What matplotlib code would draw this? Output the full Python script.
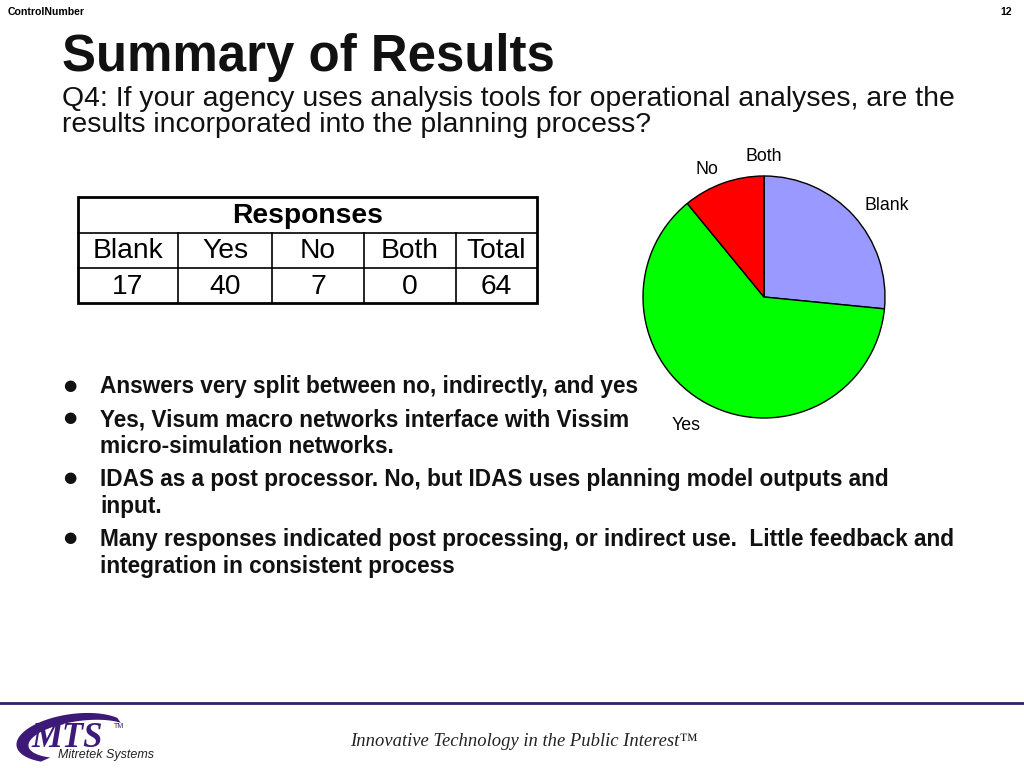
"""Summary of Results slide: Q4 responses table and pie."""

import matplotlib.pyplot as plt
from matplotlib.patches import Rectangle, Polygon
import numpy as np

categories = ['Blank', 'Yes', 'No', 'Both']
counts = [17, 40, 7, 0]
colors = ['#9999FF', '#00FF00', '#FF0000', '#FFFF99']

title = 'Summary of Results'
question = ['Q4: If your agency uses analysis tools for operational analyses, are the',
            'results incorporated into the planning process?']
bullets = [
    ['Answers very split between no, indirectly, and yes'],
    ['Yes, Visum macro networks interface with Vissim', 'micro-simulation networks.'],
    ['IDAS as a post processor. No, but IDAS uses planning model outputs and', 'input.'],
    ['Many responses indicated post processing, or indirect use.  Little feedback and',
     'integration in consistent process'],
]

W, H = 1024, 768
purple = '#3D1A78'
plt.rcParams['font.family'] = ['Liberation Sans', 'DejaVu Sans']

fig = plt.figure(figsize=(W / 100, H / 100), dpi=100)
ax = fig.add_axes([0, 0, 1, 1])
ax.set_xlim(0, W)
ax.set_ylim(H, 0)
ax.axis('off')

# header
ax.text(8, 12, 'ControlNumber', fontsize=7.6, fontweight='bold', va='center')
ax.text(1012, 12, '12', fontsize=7.6, fontweight='bold', va='center', ha='right')

# title
ax.text(62, 71, title, fontsize=36.7, fontweight='bold', va='baseline', color='#111111')
for i, line in enumerate(question):
    ax.text(62, 106 + i * 26, line, fontsize=20.4, va='baseline', color='#111111')

# table
cols = [78, 178, 272, 364, 456, 537]
rows = [197, 233, 268, 303]
header = categories + ['Total']
values = counts + [sum(counts)]
for yy in rows[1:-1]:
    ax.plot([cols[0], cols[-1]], [yy, yy], color='black', lw=1.2)
for x in cols[1:-1]:
    ax.plot([x, x], [rows[1], rows[-1]], color='black', lw=1.2)
ax.add_patch(Rectangle((cols[0], rows[0]), cols[-1] - cols[0], rows[-1] - rows[0],
                       fill=False, ec='black', lw=2))
ax.text((cols[0] + cols[-1]) / 2, (rows[0] + rows[1]) / 2 + 1, 'Responses',
        fontsize=20.3, fontweight='bold', ha='center', va='center')
for j in range(len(header)):
    cx = (cols[j] + cols[j + 1]) / 2
    ax.text(cx, (rows[1] + rows[2]) / 2 + 1, header[j], fontsize=20.3, ha='center', va='center')
    ax.text(cx, (rows[2] + rows[3]) / 2 + 1, str(values[j]), fontsize=20.3, ha='center',
            va='center')

# bullets
y = 393
for item in bullets:
    ax.text(70, y - 8, '\u25cf', fontsize=11, ha='center', va='center',
            family=['DejaVu Sans'], color='#111111')
    for k, line in enumerate(item):
        ax.text(100, y, line, fontsize=16.3, fontweight='bold', va='baseline', color='#111111')
        y += 27 if k < len(item) - 1 else 0
    y += 33

# footer
ax.plot([0, W], [703, 703], color='#2E2468', lw=2)
t = np.linspace(np.radians(35), np.radians(232), 60)
rot = np.radians(8)
def ell(cx0, cy0, a, b, tt):
    xs = a * np.cos(tt)
    ys = b * np.sin(tt)
    return cx0 + xs * np.cos(rot) - ys * np.sin(rot), cy0 - (xs * np.sin(rot) + ys * np.cos(rot))
ox, oy = ell(73, 738, 57, 24, t)
ix, iy = ell(80, 739, 52, 18, t[::-1])
ax.add_patch(Polygon(np.column_stack([np.r_[ox, ix], np.r_[oy, iy]]), closed=True,
                     fc=purple, ec='none'))
ax.text(31, 747, 'MTS', fontsize=25, fontweight='bold', style='italic',
        family=['Liberation Serif'], color=purple, va='baseline')
ax.text(114, 728, 'TM', fontsize=5, color=purple, va='baseline')
ax.text(58, 758, 'Mitretek Systems', fontsize=9, style='italic', color='#222222',
        va='baseline')
ax.text(350, 746, 'Innovative Technology in the Public Interest\u2122', fontsize=13.4,
        style='italic', family=['Liberation Serif', 'DejaVu Serif'], va='baseline',
        color='#222222')

# pie
cx, cy, r = 764, 297, 121
pax = fig.add_axes([(cx - r) / W, (H - cy - r) / H, 2 * r / W, 2 * r / H])
wedges, texts = pax.pie(counts, labels=categories, colors=colors, startangle=90,
                        counterclock=False, labeldistance=1.12,
                        wedgeprops=dict(edgecolor='black', linewidth=1),
                        textprops=dict(fontsize=12.8))
texts[1].set_va('top')
texts[3].set_ha('center')
texts[3].set_va('baseline')
pax.set_xlim(-1, 1)
pax.set_ylim(-1, 1)

fig.savefig('out.png', dpi=100)
